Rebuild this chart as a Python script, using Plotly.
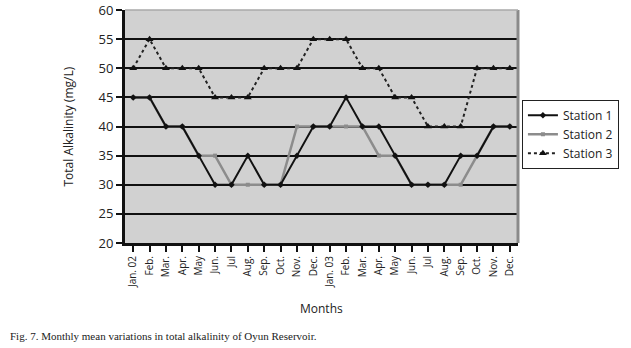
import plotly.graph_objects as go

months = ["Jan. 02", "Feb.", "Mar.", "Apr.", "May", "Jun.", "Jul", "Aug.", "Sep.", "Oct.", "Nov.", "Dec.",
          "Jan. 03", "Feb.", "Mar.", "Apr.", "May", "Jun.", "Jul", "Aug.", "Sep.", "Oct.", "Nov.", "Dec."]
station1 = [45, 45, 40, 40, 35, 30, 30, 35, 30, 30, 35, 40,
            40, 45, 40, 40, 35, 30, 30, 30, 35, 35, 40, 40]
station2 = [45, 45, 40, 40, 35, 35, 30, 30, 30, 30, 40, 40,
            40, 40, 40, 35, 35, 30, 30, 30, 30, 35, 40, 40]
station3 = [50, 55, 50, 50, 50, 45, 45, 45, 50, 50, 50, 55,
            55, 55, 50, 50, 45, 45, 40, 40, 40, 50, 50, 50]

xidx = list(range(len(months)))
FONT = "Open Sans, Noto Sans, sans-serif"

fig = go.Figure()
fig.add_trace(go.Scatter(x=xidx, y=station2, name="Station 2", mode="lines+markers",
                         legendrank=2,
                         line=dict(color="#8c8c8c", width=2.5),
                         marker=dict(symbol="square", size=4, color="#8c8c8c")))
fig.add_trace(go.Scatter(x=xidx, y=station1, name="Station 1", mode="lines+markers",
                         legendrank=1,
                         line=dict(color="#111111", width=2),
                         marker=dict(symbol="diamond", size=5, color="#111111")))
fig.add_trace(go.Scatter(x=xidx, y=station3, name="Station 3", mode="lines+markers",
                         legendrank=3,
                         line=dict(color="#222222", width=2, dash="dot"),
                         marker=dict(symbol="triangle-up", size=7, color="#111111")))

fig.update_layout(
    width=631, height=348,
    margin=dict(l=125, r=113, t=10, b=105, autoexpand=False),
    paper_bgcolor="white",
    plot_bgcolor="#d1d1d1",
    font=dict(family=FONT, color="#222222"),
    showlegend=True,
    legend=dict(x=1.01, y=0.615, xanchor="left", yanchor="top",
                bordercolor="#222222", borderwidth=1, bgcolor="white",
                font=dict(size=12, family=FONT), traceorder="normal",
                itemwidth=30, tracegroupgap=2),
    xaxis=dict(
        tickmode="array", tickvals=xidx, ticktext=months,
        range=[-0.5, 23.5], tickangle=-90, automargin=False,
        tickfont=dict(size=10, family=FONT),
        showline=True, linecolor="#111111", linewidth=3,
        ticks="outside", ticklen=6, tickwidth=2, tickcolor="#111111",
        showgrid=False, zeroline=False, tickson="boundaries",
    ),
    yaxis=dict(
        range=[20, 60], dtick=5, tick0=20, automargin=False,
        tickfont=dict(size=13, family=FONT),
        showline=True, linecolor="#111111", linewidth=3,
        ticks="outside", ticklen=6, tickwidth=2, tickcolor="#111111",
        showgrid=True, gridcolor="#111111", gridwidth=1.5,
        zeroline=False,
    ),
    annotations=[
        dict(text="Total Alkalinity (mg/L)", xref="paper", yref="paper",
             x=-0.145, y=0.5, textangle=-90, showarrow=False,
             font=dict(size=12, family=FONT), xanchor="center", yanchor="middle"),
        dict(text="Months", xref="paper", yref="paper", x=0.5, y=-0.279,
             showarrow=False, font=dict(size=12, family=FONT),
             xanchor="center", yanchor="middle"),
        dict(text="Fig. 7. Monthly mean variations in total alkalinity of Oyun Reservoir.",
             xref="paper", yref="paper", x=-0.298, y=-0.399, showarrow=False,
             font=dict(size=11, family="Liberation Serif, serif", color="#222222"),
             xanchor="left", yanchor="middle"),
    ],
    shapes=[
        dict(type="line", xref="paper", yref="paper", x0=1, x1=1, y0=0, y1=1,
             line=dict(color="#8a8a8a", width=3)),
        dict(type="line", xref="paper", yref="paper", x0=0, x1=1, y0=1, y1=1,
             line=dict(color="#a8a8a8", width=1.5)),
    ],
)

fig.write_html("out.html", config={"displayModeBar": False},
               post_script="document.body.style.margin='0';")
